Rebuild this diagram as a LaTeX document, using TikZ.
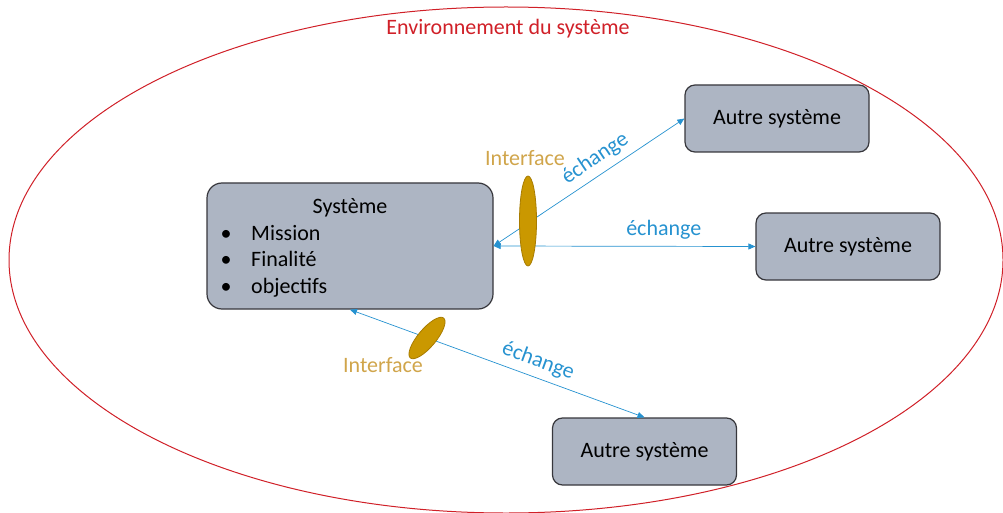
\documentclass[tikz,border=0pt]{standalone}
\usepackage{fontspec}
\setmainfont{Carlito}
\usetikzlibrary{shapes.geometric,arrows.meta}

\definecolor{envred}{RGB}{208,32,40}
\definecolor{boxfill}{RGB}{173,181,195}
\definecolor{boxline}{RGB}{55,55,60}
\definecolor{xchblue}{RGB}{38,146,208}
\definecolor{itfgold}{RGB}{202,152,0}
\definecolor{itfedge}{RGB}{168,124,0}
\definecolor{itftext}{RGB}{208,165,75}

\begin{document}
\begin{tikzpicture}[x=1pt,y=-1pt,
  every node/.style={font=\fontsize{22}{26}\selectfont},
  sysbox/.style={draw=boxline,line width=1.2pt,fill=boxfill,rounded corners=10pt,minimum width=184pt,minimum height=67pt},
  xch/.style={draw=xchblue,line width=0.7pt,{Triangle[length=7pt,width=6pt]}-{Triangle[length=7pt,width=6pt]}},
  xchlabel/.style={text=xchblue,sloped,above=3pt},
  itf/.style={ellipse,draw=itfedge,line width=0.8pt,fill=itfgold,inner sep=0pt},
]
\useasboundingbox (0,0) rectangle (1003,513);
\draw[envred,line width=1pt] (506,260) ellipse [x radius=497pt, y radius=253pt];
\node[text=envred,anchor=base] (env) at (508,35) {Environnement du système};

\node[sysbox,minimum width=286pt,minimum height=126pt,rounded corners=15pt] (sys) at (350,246) {};
\node[anchor=base] (systitle) at (350,213) {Système};
\foreach \lbl/\yy [count=\i] in {Mission/240,Finalité/266.5,objectifs/293}{
  \node[anchor=base] (dot\i) at (226,\yy) {\textbullet};
  \node[anchor=base west,inner sep=0pt] (aim\i) at (251,\yy) {\lbl};
}

\node[sysbox] (other1) at (777,118.5) {Autre système};
\node[sysbox] (other2) at (848,246.5) {Autre système};
\node[sysbox] (other3) at (644.5,451.5) {Autre système};

\draw[xch] (sys.east) -- node[xchlabel,pos=0.58] (xch1) {échange} (other1.west);
\draw[xch] (sys.east) -- node[xchlabel,pos=0.65] (xch2) {échange} (other2.west);
\draw[xch] (sys.south) -- node[xchlabel,pos=0.62] (xch3) {échange} (other3.north);

\node[itf,minimum width=17pt,minimum height=90pt] (itf1) at (528,221) {};
\node[itf,minimum width=52pt,minimum height=18pt,rotate=50] (itf2) at (427,338) {};
\node[text=itftext] (itflbl1) at (525,158) {Interface};
\node[text=itftext] (itflbl2) at (383,365) {Interface};
\end{tikzpicture}
\end{document}
